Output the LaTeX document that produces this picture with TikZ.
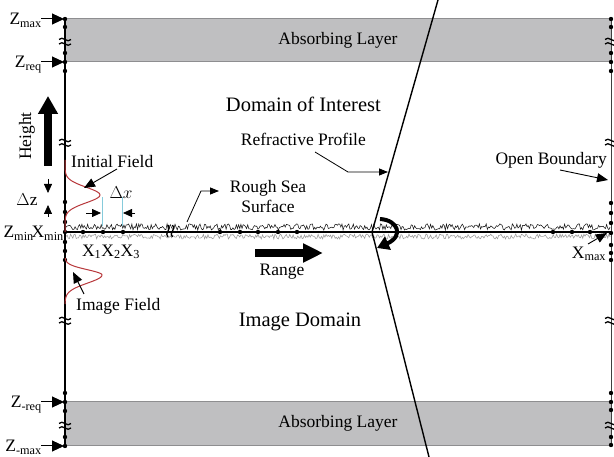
\documentclass[tikz,border=0pt]{standalone}
\usepackage{fontspec}
\setmainfont{Liberation Serif}
\usetikzlibrary{arrows.meta}
\definecolor{bandgray}{HTML}{BFBFC1}
\definecolor{bandedge}{HTML}{8E8E90}
\definecolor{fieldred}{HTML}{B8383B}
\definecolor{cy}{HTML}{86CBDB}
\begin{document}
\begin{tikzpicture}[x=1pt,y=-1pt,
  font=\fontsize{17.5}{20}\selectfont,
  lbl/.style={inner sep=0pt},
  big/.style={inner sep=0pt,font=\fontsize{20.5}{24}\selectfont},
  ztip/.style={line width=1pt,-{Triangle[length=12pt,width=11pt]}},
  ltip/.style={line width=0.9pt,-{Triangle[length=11pt,width=9pt]}},
  stip/.style={line width=0.8pt,-{Triangle[length=9pt,width=8pt]}},
  brk/.pic={
    \draw[line width=1.3pt] (-6,-1.5) .. controls (-2.5,-6) and (2.5,3) .. (6,-1.5);
    \draw[line width=1.3pt] (-6,3) .. controls (-2.5,-1.5) and (2.5,7.5) .. (6,3);
  }]
\useasboundingbox (0,0) rectangle (614,457);
\fill[white] (0,0) rectangle (614,457);

% absorbing layers
\draw[fill=bandgray,draw=bandedge,line width=1pt] (65,19) rectangle (611,62);
\draw[fill=bandgray,draw=bandedge,line width=1pt] (65,402) rectangle (611,446);
\node[lbl] (abs1) at (338,40) {Absorbing Layer};
\node[lbl] (abs2) at (338,423) {Absorbing Layer};

% rough sea surface
\pgfmathsetseed{11}
\draw[black!90,line width=0.55pt] plot[domain=66:610,samples=480] (\x,{227+3.2*rand});
\draw[black!40,line width=0.55pt] plot[domain=66:610,samples=480] (\x,{236.5+2.5*rand});
\coordinate (sl) at (65,232);
\coordinate (sr) at (611,232);
\draw[line width=1.5pt] (sl) -- (sr);
\pic at (169.5,231) [rotate=90] {brk};

% axes
\coordinate (lt) at (65,19);
\coordinate (lb) at (65,446);
\coordinate (rt) at (611,19);
\coordinate (rb) at (611,445);
\draw[line width=1.1pt] (lt) -- (lb);
\draw[line width=0.8pt,black!75] (rt) -- (rb);
\foreach \y in {41,142,320,425} \pic at (65,\y) {brk};
\foreach \y in {41,142,320,425} \pic at (611,\y) {brk};
\foreach \y in {19,27,53,62,71,202,212,222,232,242,251,260,393,402,411,437,446}
  \fill (65,\y) circle (2.2pt);
\foreach \y in {19,27,53,62,71,203,213,223,233,245,253,260,393,402,410,437,445}
  \fill (611,\y) circle (2.2pt);
\foreach \x in {83,103,123,220,240,258,278,297,553,572,590}
  \fill (\x,232) circle (2.2pt);

% refractive profile
\coordinate (pt) at (438,0);
\coordinate (pm) at (372,232);
\coordinate (pb) at (429,457);
\draw[line width=1.4pt] (pt) -- (pm) -- (pb);

% Z labels
\node[lbl,anchor=base east] (zmax) at (42,25) {Z\textsubscript{max}};
\node[lbl,anchor=base east] (zreq) at (42,68) {Z\textsubscript{req}};
\node[lbl,anchor=base east] (zmreq) at (42,408) {Z\textsubscript{-req}};
\node[lbl,anchor=base east] (zmmax) at (42,452) {Z\textsubscript{-max}};
\coordinate (zmaxp) at (64,19);
\coordinate (zreqp) at (64,62);
\coordinate (zmreqp) at (64,402);
\coordinate (zmmaxp) at (64,446);
\draw[ztip] (zmax.east |- zmaxp) ++(-1,0) -- (zmaxp);
\draw[ztip] (zreq.east |- zreqp) ++(-1,0) -- (zreqp);
\draw[ztip] (zmreq.east |- zmreqp) ++(-1,0) -- (zmreqp);
\draw[ztip] (zmmax.east |- zmmaxp) ++(-1,0) -- (zmmaxp);
\node[lbl,anchor=base east] (zmin) at (34,238) {Z\textsubscript{min}};
\node[lbl,anchor=base east] (xmin) at (64,238) {X\textsubscript{min}};

% height arrow
\coordinate (hb) at (48,166);
\coordinate (ht) at (48,96);
\draw[line width=8pt,-{Triangle[length=18pt,width=19pt]}] (hb) -- (ht);
\node[lbl,rotate=90] (height) at (27,136) {Height};

% delta z
\coordinate (dz1a) at (48,179);
\coordinate (dz1b) at (48,193);
\coordinate (dz2a) at (48,217);
\coordinate (dz2b) at (48,205);
\draw[stip] (dz1a) -- (dz1b);
\draw[stip] (dz2a) -- (dz2b);
\node[lbl] (dz) at (27,200) {$\Delta$z};

% initial field
\draw[fieldred,line width=1pt] plot[domain=160:232,samples=80] ({65+35*exp(-(((\x-195)/11)^2))},\x);
\node[lbl,anchor=west] (initf) at (71,162) {Initial Field};
\coordinate (initp) at (84,188);
\draw[ltip] (117,169) -- (initp);

% image field
\draw[fieldred,line width=1pt] plot[domain=258:275,samples=30] ({65+37*exp(-(((\x-275)/7.5)^2))},\x);
\draw[fieldred,line width=1pt] plot[domain=275:304,samples=40] ({65+37*exp(-(((\x-275)/11.5)^2))},\x);
\node[lbl,anchor=west] (imgf) at (76,306) {Image Field};
\coordinate (imgp) at (73,272);
\draw[ltip] (84,294) -- (imgp);

% delta x
\draw[cy,line width=0.8pt] (102,197) -- (102,226);
\draw[cy,line width=0.8pt] (122,197) -- (122,226);
\coordinate (dxa) at (86,213);
\coordinate (dxb) at (101,213);
\coordinate (dxc) at (135,213);
\coordinate (dxd) at (123,213);
\draw[stip] (dxa) -- (dxb);
\draw[stip] (dxc) -- (dxd);
\node[lbl] (dx) at (121,193) {$\Delta x$};
\node[lbl] (x123) at (111,252) {X\textsubscript{1}X\textsubscript{2}X\textsubscript{3}};

% rough sea label
\node[lbl,align=center] (rough) at (268,197) {Rough Sea\\Surface};
\coordinate (rs1) at (187,222);
\coordinate (rs2) at (201,191);
\coordinate (rs3) at (219,191);
\draw[line width=0.8pt,-{Triangle[length=9pt,width=7pt]}] (rs1) -- (rs2) -- (rs3);

% refractive profile label
\node[lbl,anchor=east] (refr) at (366,139) {Refractive Profile};
\coordinate (rp1) at (315,152);
\coordinate (rp2) at (348,172);
\coordinate (rp3) at (388,172);
\draw[line width=0.8pt,-{Triangle[length=9pt,width=7pt]}] (rp1) -- (rp2) -- (rp3);

% domain labels
\node[big,anchor=east] (doi) at (381,104) {Domain of Interest};
\node[big] (imd) at (300,322) {Image Domain};

% range arrow
\coordinate (ra) at (255,253);
\coordinate (rb2) at (323,253);
\draw[line width=8pt,-{Triangle[length=20pt,width=18pt]}] (ra) -- (rb2);
\node[lbl] (range) at (282,272) {Range};

% curved reflection arrow
\coordinate (ca) at (380,219);
\coordinate (cb) at (377,248);
\draw[line width=4pt,-{Triangle[length=12pt,width=14pt]}] (ca) .. controls (398,220) and (404,236) .. (cb);

% open boundary
\node[lbl,anchor=east] (openb) at (607,160) {Open Boundary};
\coordinate (obp) at (608,180);
\draw[ltip] (560,170) -- (obp);

% x max
\node[lbl] (xmax) at (589,254) {X\textsubscript{max}};
\coordinate (xmp) at (607,233);
\draw[ltip] (588,244) -- (xmp);
\end{tikzpicture}
\end{document}
